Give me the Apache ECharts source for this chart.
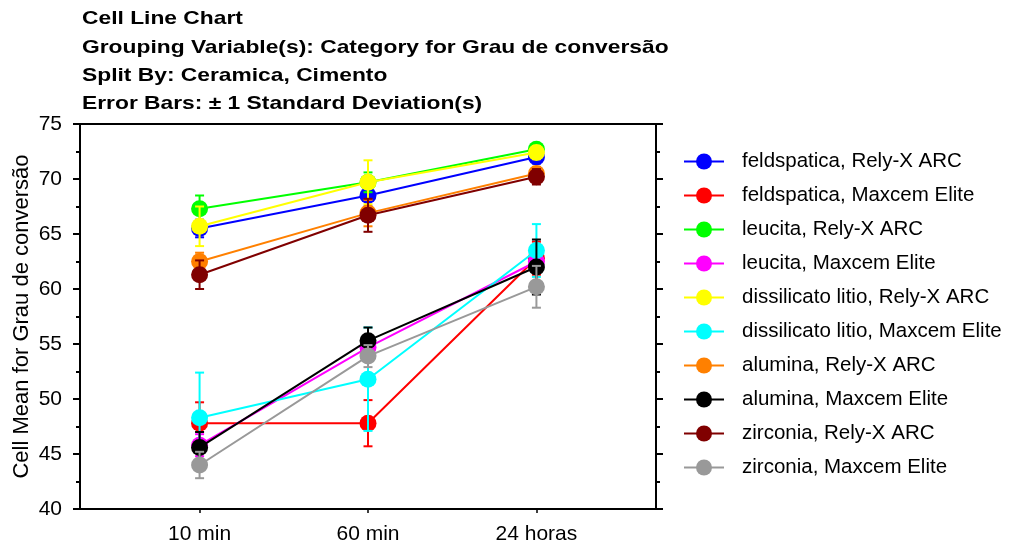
<!DOCTYPE html>
<html>
<head>
<meta charset="utf-8">
<script src="https://cdn.jsdelivr.net/npm/echarts@6/dist/echarts.min.js"></script>
<style>
html,body{margin:0;padding:0;background:#fff;}
#chart{width:1012px;height:548px;}
</style>
</head>
<body>
<div id="chart"></div>
<script>
// ---- data ----
const categories = ['10 min', '60 min', '24 horas'];
const xPositions = [1, 2, 3];
const yTicks = [40, 45, 50, 55, 60, 65, 70, 75];

const seriesNames = [
  'feldspatica, Rely-X ARC',
  'feldspatica, Maxcem Elite',
  'leucita, Rely-X ARC',
  'leucita, Maxcem Elite',
  'dissilicato litio, Rely-X ARC',
  'dissilicato litio, Maxcem Elite',
  'alumina, Rely-X ARC',
  'alumina, Maxcem Elite',
  'zirconia, Rely-X ARC',
  'zirconia, Maxcem Elite'
];
const seriesColors = ['#0000ff', '#ff0000', '#00ff00', '#ff00ff', '#ffff00',
                      '#00ffff', '#ff8000', '#000000', '#800000', '#999999'];

const feldspaticaRely   = [65.5, 68.5, 72.0];
const feldspaticaMaxcem = [47.8, 47.8, 62.8];
const leucitaRely       = [67.3, 69.7, 72.7];
const leucitaMaxcem     = [45.8, 54.7, 62.5];
const dissilicatoRely   = [65.7, 69.7, 72.4];
const dissilicatoMaxcem = [48.3, 51.8, 63.5];
const aluminaRely       = [62.5, 66.9, 70.5];
const aluminaMaxcem     = [45.6, 55.3, 62.0];
const zirconiaRely      = [61.3, 66.7, 70.2];
const zirconiaMaxcem    = [44.0, 53.9, 60.2];

const feldspaticaRelySD   = [0.8, 1.0, 0.6];
const feldspaticaMaxcemSD = [1.9, 2.1, 1.5];
const leucitaRelySD       = [1.2, 0.9, 0.5];
const leucitaMaxcemSD     = [1.0, 1.0, 1.0];
const dissilicatoRelySD   = [1.8, 2.0, 0.6];
const dissilicatoMaxcemSD = [4.1, 4.7, 2.4];
const aluminaRelySD       = [0.8, 1.2, 0.6];
const aluminaMaxcemSD     = [1.4, 1.2, 2.5];
const zirconiaRelySD      = [1.3, 1.5, 0.7];
const zirconiaMaxcemSD    = [1.2, 1.0, 1.9];

const means = [feldspaticaRely, feldspaticaMaxcem, leucitaRely, leucitaMaxcem, dissilicatoRely,
               dissilicatoMaxcem, aluminaRely, aluminaMaxcem, zirconiaRely, zirconiaMaxcem];
const sds = [feldspaticaRelySD, feldspaticaMaxcemSD, leucitaRelySD, leucitaMaxcemSD, dissilicatoRelySD,
             dissilicatoMaxcemSD, aluminaRelySD, aluminaMaxcemSD, zirconiaRelySD, zirconiaMaxcemSD];

const titleLines = [
  'Cell Line Chart',
  'Grouping Variable(s): Category for Grau de conversão',
  'Split By: Ceramica, Cimento',
  'Error Bars: ± 1 Standard Deviation(s)'
];
const yAxisName = 'Cell Mean for Grau de conversão';

// ---- chart ----
const FONT = 'Liberation Sans, Arial, sans-serif';
const chart = echarts.init(document.getElementById('chart'), null, {renderer: 'canvas'});

const series = [];
means.forEach((m, i) => {
  const color = seriesColors[i];
  series.push({
    name: seriesNames[i] + ' (sd)',
    type: 'custom',
    xAxisIndex: 0, yAxisIndex: 0,
    silent: true,
    z: 2 + i * 2,
    data: m.map((v, j) => [xPositions[j], v, sds[i][j]]),
    renderItem: function (params, api) {
      const x = api.value(0), y = api.value(1), s = api.value(2);
      const top = api.coord([x, y + s]);
      const bot = api.coord([x, y - s]);
      const hw = 4.5;
      const st = {stroke: color, lineWidth: 2};
      return {
        type: 'group',
        children: [
          {type: 'line', shape: {x1: top[0], y1: top[1], x2: bot[0], y2: bot[1]}, style: st},
          {type: 'line', shape: {x1: top[0] - hw, y1: top[1], x2: top[0] + hw, y2: top[1]}, style: st},
          {type: 'line', shape: {x1: bot[0] - hw, y1: bot[1], x2: bot[0] + hw, y2: bot[1]}, style: st}
        ]
      };
    }
  });
  series.push({
    name: seriesNames[i],
    type: 'line',
    xAxisIndex: 0, yAxisIndex: 0,
    z: 3 + i * 2,
    data: m.map((v, j) => [xPositions[j], v]),
    symbol: 'circle',
    symbolSize: 17,
    showSymbol: true,
    color: color,
    itemStyle: {color: color, borderWidth: 0},
    lineStyle: {color: color, width: 2},
    emphasis: {disabled: true},
    animation: false
  });
});

const titleY = [19, 48, 76, 104];
const option = {
  animation: false,
  backgroundColor: '#ffffff',
  textStyle: {fontFamily: FONT},
  graphic: titleLines.map((t, k) => ({
    type: 'text',
    x: 82, y: titleY[k],
    scaleX: 1.2,
    style: {text: t, font: 'bold 19px ' + FONT, fill: '#000', textVerticalAlign: 'middle', verticalAlign: 'middle'}
  })),
  legend: {
    data: seriesNames,
    orient: 'vertical',
    left: 683, top: 151,
    padding: 0,
    itemWidth: 40, itemHeight: 20,
    itemGap: 13,
    textStyle: {fontFamily: FONT, fontSize: 20.5, color: '#000', padding: [0, 0, 0, 13]},
    selectedMode: false
  },
  grid: {left: 80, right: 356, top: 124, bottom: 39, containLabel: false, outerBoundsMode: 'none'},
  xAxis: [{
    type: 'value', position: 'bottom', min: 0.29, max: 3.71,
    axisLine: {show: true, onZero: false, lineStyle: {color: '#000', width: 2}},
    axisTick: {show: true, customValues: xPositions, length: 4, lineStyle: {color: '#000', width: 1.5}},
    axisLabel: {show: true, customValues: xPositions, margin: 15, fontSize: 21, color: '#000', fontFamily: FONT,
      formatter: v => categories[Math.round(v) - 1]},
    splitLine: {show: false}
  }, {
    type: 'value', position: 'top', min: 0.29, max: 3.71,
    axisLine: {show: true, onZero: false, lineStyle: {color: '#000', width: 2}},
    axisTick: {show: false}, axisLabel: {show: false}, splitLine: {show: false}
  }],
  yAxis: [{
    type: 'value', position: 'left', min: 40, max: 75, interval: 5,
    name: yAxisName, nameLocation: 'middle', nameGap: 47, nameRotate: 90,
    nameMoveOverlap: false,
    nameTextStyle: {fontFamily: FONT, fontSize: 22, color: '#000'},
    axisLine: {show: true, onZero: false, lineStyle: {color: '#000', width: 2}},
    axisTick: {show: true, inside: false, length: 7, lineStyle: {color: '#000', width: 2}},
    minorTick: {show: true, splitNumber: 2, length: 4, lineStyle: {color: '#000', width: 2}},
    axisLabel: {show: true, margin: 18, fontSize: 21, color: '#000', fontFamily: FONT},
    splitLine: {show: false}, minorSplitLine: {show: false}
  }, {
    type: 'value', position: 'right', min: 40, max: 75, interval: 5,
    axisLine: {show: true, onZero: false, lineStyle: {color: '#000', width: 2}},
    axisTick: {show: true, inside: false, length: 7, lineStyle: {color: '#000', width: 2}},
    minorTick: {show: true, splitNumber: 2, length: 4, lineStyle: {color: '#000', width: 2}},
    axisLabel: {show: false},
    splitLine: {show: false}, minorSplitLine: {show: false}
  }],
  series: series
};
chart.setOption(option);
</script>
</body>
</html>
